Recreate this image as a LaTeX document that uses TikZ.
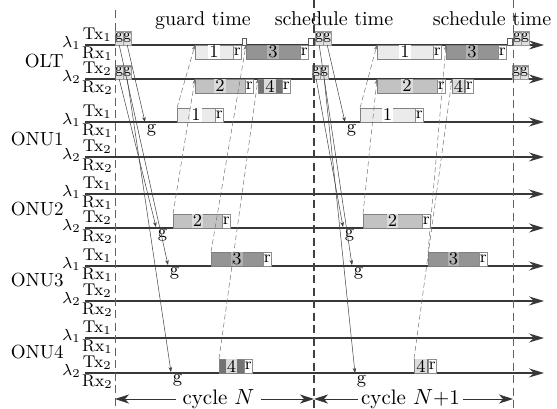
\documentclass[tikz,border=0pt]{standalone}
\usetikzlibrary{arrows.meta}

% slot fills (body) and the lighter patch behind each slot number
\definecolor{slotA}{gray}{0.92}
\definecolor{slotB}{gray}{0.76}
\definecolor{slotC}{gray}{0.58}
\definecolor{slotD}{gray}{0.45}
\definecolor{patchA}{gray}{1}
\definecolor{patchB}{gray}{0.86}
\definecolor{patchC}{gray}{0.70}
\definecolor{patchD}{gray}{0.86}

\newcommand\fsz[1]{\fontsize{#1}{#1}\selectfont}

% one drawing unit is half a point
\tikzset{
  chan/.style={draw=black!78, line width=0.6pt, -{Stealth[length=7.5pt,width=4.5pt,inset=2.5pt]}},
  bound/.style={draw=black!62, line width=0.45pt, dash pattern=on 4pt off 2.25pt},
  lbl/.style={inner sep=0pt, font=\fsz{8.5}},
  grp/.style={inner sep=0pt, font=\fsz{9.5}},
  toplbl/.style={inner sep=0pt, font=\fsz{10}},
  blk/.style={draw=black!50, line width=0.25pt, minimum height=7pt, inner sep=0pt, outer sep=0pt},
  digit/.style={inner sep=0.5pt, minimum height=6.5pt, font=\fsz{9}},
  rbox/.style={draw=black!45, line width=0.25pt, fill=white, minimum width=4.25pt,
               minimum height=7pt, inner sep=0pt, outer sep=0pt, font=\fsz{8.5}},
  gbox/.style={draw=black!40, line width=0.2pt, fill=black!12, minimum width=4pt,
               minimum height=7pt, inner sep=0pt, anchor=south west, font=\fsz{7.5}},
  gapmark/.style={draw=black!65, line width=0.25pt, fill=white, minimum width=2pt,
                  minimum height=3.5pt, inner sep=0pt, anchor=south west},
  glbl/.style={inner sep=0.75pt, anchor=north west, font=\fsz{9}},
  grant/.style={draw=black!75, line width=0.25pt, -{Stealth[length=2.5pt,width=1.8pt]}},
  uplink/.style={draw=black!55, line width=0.25pt, dash pattern=on 2.5pt off 1.5pt,
                 -{Stealth[length=2.5pt,width=1.8pt]}},
  cyc/.style={inner ysep=0pt, font=\fsz{10.5}},
  cycarrow/.style={draw=black!80, line width=0.4pt, -{Stealth[length=7pt,width=4.5pt,inset=2pt]}},
}

% time slot: name, anchor, x, y, width, fill, patch, number
\newcommand\tslot[8]{%
  \node[blk, anchor=#2, fill=#6, minimum width=#5*0.5pt] (#1) at (#3,#4) {};
  \node[digit, fill=#7] (#1d) at (#1.center) {#8};
  \node[rbox, anchor=west] (#1r) at (#1.east) {r};
}

\begin{document}
\begin{tikzpicture}[x=0.5pt,y=-0.5pt]
\useasboundingbox (0,0) rectangle (557,408);

% wavelength channels with Tx/Rx labels
\foreach \L/\k/\n in {45/1/o1, 79/2/o2, 122/1/a1, 157/2/a2, 194/1/b1,
                      228/2/b2, 266/1/c1, 301/2/c2, 338/1/d1, 373/2/d2} {
  \draw[chan] (85,\L) -- (544,\L);
  \node[lbl, anchor=base east] (tx\n) at (112,\L-5.5) {Tx$_{\k}$};
  \node[lbl, anchor=base east] (rx\n) at (113,\L+13) {Rx$_{\k}$};
  \node[lbl, anchor=base east] (lam\n) at (81,\L+2) {$\lambda_{\k}$};
}

% units
\node[grp, anchor=east] (olt)  at (64,61)    {OLT};
\node[grp, anchor=east] (onu1) at (64,139.5) {ONU1};
\node[grp, anchor=east] (onu2) at (64,209)   {ONU2};
\node[grp, anchor=east] (onu3) at (64,280)   {ONU3};
\node[grp, anchor=east] (onu4) at (64,352)   {ONU4};

% headings
\node[toplbl, anchor=base] (gt)  at (203,25) {guard time};
\node[toplbl, anchor=base] (st1) at (334,25) {schedule time};
\node[toplbl, anchor=base] (st2) at (492,25) {schedule time};

% cycle N: OLT receive slots
\tslot{R1a}{north west}{195}{45}{38}{slotA}{patchA}{1}
\tslot{R3a}{north west}{246}{45}{54}{slotC}{patchC}{3}
\tslot{R2a}{north west}{195}{79}{50}{slotB}{patchB}{2}
\tslot{R4a}{north west}{258}{79}{24}{slotD}{patchD}{4}
% cycle N: ONU transmit slots
\tslot{T1a}{south west}{177}{122}{38}{slotA}{patchA}{1}
\tslot{T2a}{south west}{173}{228}{49}{slotB}{patchB}{2}
\tslot{T3a}{south west}{211}{266}{52}{slotC}{patchC}{3}
\tslot{T4a}{south west}{219}{373}{25}{slotD}{patchD}{4}

% cycle N+1: OLT receive slots
\tslot{R1b}{north west}{377}{45}{56}{slotA}{patchA}{1}
\tslot{R3b}{north west}{446}{45}{52}{slotC}{patchC}{3}
\tslot{R2b}{north west}{377}{79}{60}{slotB}{patchB}{2}
\tslot{R4b}{north west}{452}{79}{13}{slotD}{patchD}{4}
% cycle N+1: ONU transmit slots
\tslot{T1b}{south west}{360}{122}{55}{slotA}{patchA}{1}
\tslot{T2b}{south west}{363}{228}{59}{slotB}{patchB}{2}
\tslot{T3b}{south west}{428}{266}{51}{slotC}{patchC}{3}
\tslot{T4b}{south west}{414}{373}{14}{slotD}{patchD}{4}

% grant messages sent by the OLT
\node[gbox] (gA1l) at (115,45) {g};
\node[gbox] (gA1r) at (123,45) {g};
\node[gbox] (gA2l) at (115,79) {g};
\node[gbox] (gA2r) at (123,79) {g};
\node[gbox] (gB1l) at (315,45) {g};
\node[gbox] (gB1r) at (323,45) {g};
\node[gbox] (gB2l) at (312,79) {g};
\node[gbox] (gB2r) at (320,79) {g};
\node[gbox] (gC1l) at (513,45) {g};
\node[gbox] (gC1r) at (521,45) {g};
\node[gbox] (gC2l) at (512,79) {g};
\node[gbox] (gC2r) at (520,79) {g};

% guard and schedule time marks
\node[gapmark] (gm)  at (242,45) {};
\node[gapmark, minimum width=2.5pt] (sm1) at (308,45) {};
\node[gapmark, minimum width=2.5pt] (sm2) at (507,45) {};

% cycle boundaries
\draw[bound] (115,10) -- (115,408);
\draw[bound, draw=black!75, line width=0.55pt] (314,0) -- (314,408);
\draw[bound] (513,0) -- (513,408);

% grants received at the ONUs
\node[glbl] (ga1) at (145,122) {g};
\node[glbl] (gb2) at (156,227) {g};
\node[glbl] (gc1) at (168,265) {g};
\node[glbl] (gd2) at (171,372) {g};
\node[glbl] (ha1) at (345,122) {g};
\node[glbl] (hb2) at (343,227) {g};
\node[glbl] (hc1) at (352,265) {g};
\node[glbl] (hd2) at (355,373) {g};

\draw[grant] (gA1r.south) -- (ga1.north west);
\draw[grant] (gA1l.south) -- (gc1.north west);
\draw[grant] (gA2l.south) -- (gb2.north west);
\draw[grant] (gA2r.south) -- (gd2.north west);
\draw[grant] (gB1r.south) -- (ha1.north west);
\draw[grant] (gB1l.south) -- (hc1.north west);
\draw[grant] (gB2l.south) -- (hb2.north west);
\draw[grant] (gB2r.south) -- (hd2.north west);

% upstream bursts
\draw[uplink] (T1a.north west) -- (R1a.north west);
\draw[uplink] (T2a.north west) -- (R2a.north west);
\draw[uplink] (T3a.north west) -- (R3a.north west);
\draw[uplink] (T4a.north west) -- (R4a.north west);
\draw[uplink] (T1b.north west) -- (R1b.north west);
\draw[uplink] (T2b.north west) -- (R2b.north west);
\draw[uplink] (T3b.north west) -- (R3b.north west);
\draw[uplink] (T4b.north west) -- (R4b.north west);

% cycle spans
\coordinate (e1) at (115,399);
\coordinate (e2) at (314,399);
\coordinate (e3) at (513,399);
\node[cyc, inner xsep=3pt] (cn)  at (218.5,399) {cycle $N$};
\node[cyc, inner xsep=1.5pt] (cn1) at (410.5,399) {cycle $N$+1};
\draw[cycarrow] (cn) -- (e1);
\draw[cycarrow] (cn) -- (e2);
\draw[cycarrow] (cn1) -- (e2);
\draw[cycarrow] (cn1) -- (e3);
\end{tikzpicture}
\end{document}
